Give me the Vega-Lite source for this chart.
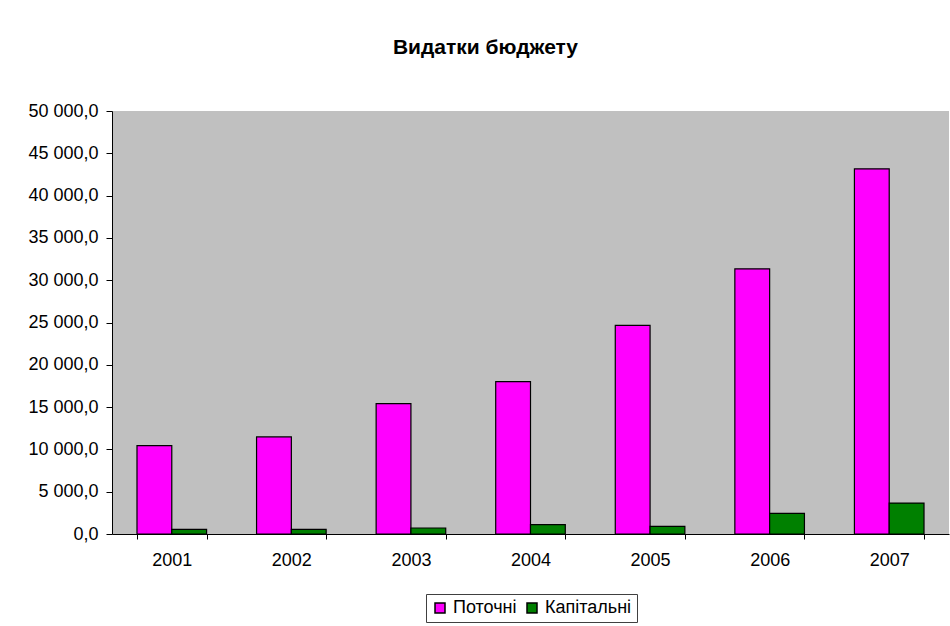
{
  "$schema": "https://vega.github.io/schema/vega-lite/v6.json",
  "autosize": "none",
  "width": 837,
  "height": 423,
  "padding": {"top": 111, "left": 112, "right": 1, "bottom": 92},
  "background": "white",
  "title": {
    "text": "Видатки бюджету",
    "font": "Liberation Sans",
    "fontSize": 21,
    "fontWeight": "bold",
    "color": "black",
    "anchor": "middle",
    "offset": 44,
    "dx": -45
  },
  "config": {
    "view": {"fill": "#C0C0C0", "stroke": null},
    "font": "Liberation Sans",
    "axis": {
      "labelFont": "Liberation Sans",
      "labelFontSize": 18,
      "labelColor": "black",
      "domainColor": "black",
      "tickColor": "black",
      "grid": false,
      "title": null
    }
  },
  "data": {
    "values": [
      {"year": "2001", "type": "Поточні", "value": 10450},
      {"year": "2001", "type": "Капітальні", "value": 540},
      {"year": "2002", "type": "Поточні", "value": 11480},
      {"year": "2002", "type": "Капітальні", "value": 540},
      {"year": "2003", "type": "Поточні", "value": 15410},
      {"year": "2003", "type": "Капітальні", "value": 710},
      {"year": "2004", "type": "Поточні", "value": 18010},
      {"year": "2004", "type": "Капітальні", "value": 1100},
      {"year": "2005", "type": "Поточні", "value": 24670},
      {"year": "2005", "type": "Капітальні", "value": 900},
      {"year": "2006", "type": "Поточні", "value": 31350},
      {"year": "2006", "type": "Капітальні", "value": 2430},
      {"year": "2007", "type": "Поточні", "value": 43160},
      {"year": "2007", "type": "Капітальні", "value": 3660}
    ]
  },
  "mark": {"type": "bar", "stroke": "black", "strokeWidth": 1.2},
  "encoding": {
    "x": {
      "field": "year",
      "type": "nominal",
      "scale": {"paddingInner": 0.418, "paddingOuter": 0.209},
      "axis": {
        "labelAngle": 0,
        "tickBand": "extent",
        "tickSize": 5,
        "labelPadding": 12
      }
    },
    "xOffset": {
      "field": "type",
      "type": "nominal",
      "scale": {"domain": ["Поточні", "Капітальні"], "paddingInner": 0, "paddingOuter": 0}
    },
    "y": {
      "field": "value",
      "type": "quantitative",
      "scale": {"domain": [0, 50000], "nice": false},
      "axis": {
        "values": [0, 5000, 10000, 15000, 20000, 25000, 30000, 35000, 40000, 45000, 50000],
        "tickSize": 6,
        "labelPadding": 8,
        "labelExpr": "replace(replace(format(datum.value, ',.1f'), regexp(',', 'g'), ' '), '.', ',')"
      }
    },
    "color": {
      "field": "type",
      "type": "nominal",
      "scale": {"domain": ["Поточні", "Капітальні"], "range": ["#FF00FF", "#008000"]},
      "legend": {
        "orient": "none",
        "legendX": 314,
        "legendY": 483,
        "direction": "horizontal",
        "title": null,
        "symbolType": "square",
        "symbolSize": 100,
        "symbolStrokeColor": "black",
        "labelFont": "Liberation Sans",
        "labelFontSize": 18,
        "labelColor": "black",
        "labelOffset": 4,
        "columnPadding": 6,
        "strokeColor": "#404040",
        "padding": 5,
        "fillColor": "white"
      }
    }
  }
}
